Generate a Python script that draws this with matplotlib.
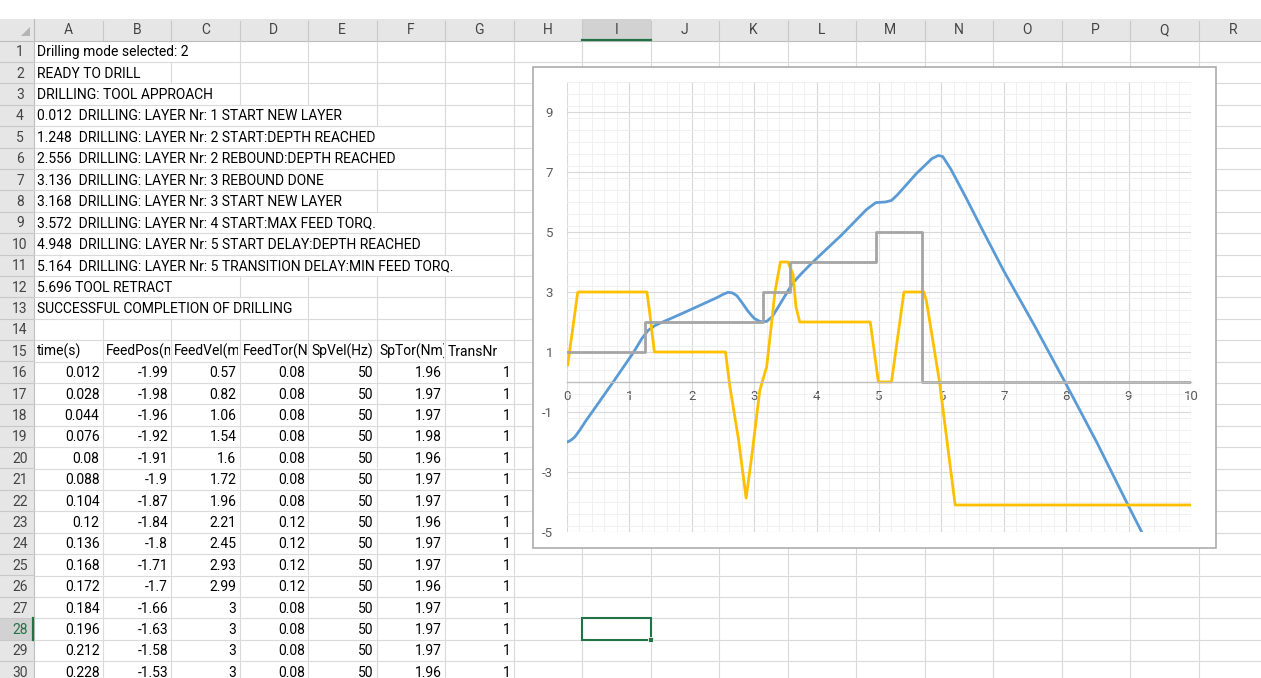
import matplotlib
matplotlib.use("Agg")
import matplotlib.pyplot as plt
from matplotlib.patches import Rectangle, Polygon
from matplotlib.collections import LineCollection
from matplotlib.ticker import MultipleLocator

W, H = 1261, 678
plt.rcParams['font.family'] = ['Roboto', 'DejaVu Sans']
plt.rcParams['axes.unicode_minus'] = False

# ---- sheet content ----
col_letters = list("ABCDEFGHIJKLMNOPQR")
log_lines = [
    "Drilling mode selected: 2",
    "READY TO DRILL",
    "DRILLING: TOOL APPROACH",
    "0.012  DRILLING: LAYER Nr: 1 START NEW LAYER",
    "1.248  DRILLING: LAYER Nr: 2 START:DEPTH REACHED",
    "2.556  DRILLING: LAYER Nr: 2 REBOUND:DEPTH REACHED",
    "3.136  DRILLING: LAYER Nr: 3 REBOUND DONE",
    "3.168  DRILLING: LAYER Nr: 3 START NEW LAYER",
    "3.572  DRILLING: LAYER Nr: 4 START:MAX FEED TORQ.",
    "4.948  DRILLING: LAYER Nr: 5 START DELAY:DEPTH REACHED",
    "5.164  DRILLING: LAYER Nr: 5 TRANSITION DELAY:MIN FEED TORQ.",
    "5.696 TOOL RETRACT",
    "SUCCESSFUL COMPLETION OF DRILLING",
]
headers = ["time(s)", "FeedPos(mm)", "FeedVel(mm/s)", "FeedTor(Nm)",
           "SpVel(Hz)", "SpTor(Nm)", "TransNr"]
time_s = [0.012, 0.028, 0.044, 0.076, 0.08, 0.088, 0.104, 0.12, 0.136,
          0.168, 0.172, 0.184, 0.196, 0.212, 0.228]
feed_pos = [-1.99, -1.98, -1.96, -1.92, -1.91, -1.9, -1.87, -1.84, -1.8,
            -1.71, -1.7, -1.66, -1.63, -1.58, -1.53]
feed_vel = [0.57, 0.82, 1.06, 1.54, 1.6, 1.72, 1.96, 2.21, 2.45,
            2.93, 2.99, 3, 3, 3, 3]
feed_tor = [0.08, 0.08, 0.08, 0.08, 0.08, 0.08, 0.08, 0.12, 0.12,
            0.12, 0.12, 0.08, 0.08, 0.08, 0.08]
sp_vel = [50] * 15
sp_tor = [1.96, 1.97, 1.97, 1.98, 1.96, 1.97, 1.97, 1.96, 1.97,
          1.97, 1.96, 1.97, 1.97, 1.97, 1.96]
trans_nr = [1] * 15

# ---- chart readings after the rows shown in the sheet ----
pos_t_more = [0.3, 0.42, 0.75, 1.07, 1.2, 1.3, 1.4, 1.5, 1.7, 2.0, 2.2, 2.4,
              2.5, 2.58, 2.65, 2.72, 2.8, 2.9, 3.0, 3.1, 3.2, 3.29, 3.4,
              3.53, 3.62, 3.75, 3.94, 4.4, 4.8, 4.95, 5.1, 5.2, 5.3, 5.45,
              5.6, 5.75, 5.85, 5.95, 6.02, 6.15, 6.38, 6.65, 7.0, 7.5, 7.98,
              8.5, 8.99, 9.21]
pos_v_more = [-1.3, -0.95, 0.03, 1.0, 1.45, 1.72, 1.87, 1.97, 2.15, 2.43,
              2.62, 2.81, 2.92, 2.99, 2.97, 2.88, 2.66, 2.36, 2.12, 2.01,
              2.02, 2.18, 2.55, 3.0, 3.3, 3.6, 4.0, 4.9, 5.75, 5.98, 6.0,
              6.05, 6.25, 6.6, 6.95, 7.25, 7.45, 7.55, 7.52, 7.1, 6.2, 5.1,
              3.7, 1.85, 0.0, -2.05, -4.1, -5.0]
vel_t_more = [1.28, 1.32, 1.4, 2.54, 2.61, 2.75, 2.87, 2.96, 3.09, 3.2,
              3.29, 3.33, 3.42, 3.54, 3.62, 3.67, 3.73, 4.86, 4.99, 5.2,
              5.4, 5.72, 5.76, 5.97, 6.22, 10.0]
vel_v_more = [3.0, 2.4, 1.0, 1.0, -0.15, -1.93, -3.87, -2.49, -0.27, 0.51,
              2.18, 2.97, 4.0, 4.0, 3.6, 2.5, 2.0, 2.0, 0.0, 0.0, 3.0, 3.0,
              2.7, 0.0, -4.1, -4.1]
trans_t = [0, 1.248, 3.136, 3.572, 4.948, 5.696, 10]
trans_v = [1, 2, 3, 4, 5, 0, 0]

# ---- geometry of the sheet (pixels) ----
col_x0, col_w = 34, 68.5
row_y0, row_h = 40.5, 21.4
hdr_top = 19
n_rows = 30
grid_c = '#DADADA'
green = '#217346'
fs = 10


def cx(k):
    return col_x0 + col_w * k


def ry(n):
    return row_y0 + row_h * (n - 1)


fig = plt.figure(figsize=(W / 100, H / 100), dpi=100)
bg = fig.add_axes([0, 0, 1, 1])
bg.set_xlim(0, W)
bg.set_ylim(H, 0)
bg.axis('off')

# headers
bg.add_patch(Rectangle((0, hdr_top), W, row_y0 - hdr_top, color='#E6E6E6', lw=0))
bg.add_patch(Rectangle((0, row_y0), col_x0, H - row_y0, color='#E6E6E6', lw=0))
sel_col, sel_row = 8, 28
bg.add_patch(Rectangle((cx(sel_col), hdr_top), col_w, row_y0 - hdr_top,
                       color='#D2D2D2', lw=0))
bg.add_patch(Rectangle((0, ry(sel_row)), col_x0, row_h, color='#D2D2D2', lw=0))

for k, letter in enumerate(col_letters):
    bg.text(cx(k) + col_w / 2, (hdr_top + row_y0) / 2 + 0.5, letter,
            ha='center', va='center', fontsize=fs, color='#444444')
    bg.plot([cx(k), cx(k)], [hdr_top + 2, row_y0], color='#C8C8C8', lw=0.8)
bg.plot([0, W], [row_y0, row_y0], color='#BDBDBD', lw=0.8)
bg.plot([col_x0, col_x0], [hdr_top, H], color='#BDBDBD', lw=0.8)
bg.add_patch(Polygon([[30, 27], [30, 36], [21, 36]], color='#B4B4B4', lw=0))

for n in range(1, n_rows + 1):
    y = ry(n)
    bg.plot([0, col_x0], [y + row_h, y + row_h], color='#C8C8C8', lw=0.8)
    bg.text(20, y + row_h / 2 + 1, str(n), ha='center', va='center',
            fontsize=fs, color=green if n == sel_row else '#444444')

# horizontal cell lines
bg.add_collection(LineCollection(
    [[(col_x0, ry(n)), (W, ry(n))] for n in range(2, n_rows + 2)],
    colors=grid_c, linewidths=0.8))

# cell texts
text_ends = {}
for i, line in enumerate(log_lines):
    n = i + 1
    t = bg.text(cx(0) + 3, ry(n) + row_h / 2 + 1, line, ha='left',
                va='center', fontsize=fs, color='black')
    text_ends[n] = t

for j, h in enumerate(headers):
    t = bg.text(cx(j) + 3, ry(15) + row_h / 2 + 1, h, ha='left', va='center',
                fontsize=fs, color='black', clip_on=True)
    t.set_clip_path(Rectangle((cx(j), ry(15)), col_w - 1.5, row_h,
                              transform=bg.transData))

columns = [time_s, feed_pos, feed_vel, feed_tor, sp_vel, sp_tor, trans_nr]
for r in range(len(time_s)):
    n = 16 + r
    for j, col in enumerate(columns):
        bg.text(cx(j + 1) - 3, ry(n) + row_h / 2 + 1, f"{col[r]:g}",
                ha='right', va='center', fontsize=fs, color='black')

renderer = fig.canvas.get_renderer()
ends = {n: t.get_window_extent(renderer).x1 for n, t in text_ends.items()}

vsegs = []
for n in range(1, n_rows + 1):
    for k in range(1, len(col_letters) + 1):
        x = cx(k)
        if n in ends and x < ends[n] + 2:
            continue
        vsegs.append([(x, ry(n)), (x, ry(n) + row_h)])
bg.add_collection(LineCollection(vsegs, colors=grid_c, linewidths=0.8))

# selection
bg.plot([cx(sel_col), cx(sel_col + 1)], [row_y0 - 1, row_y0 - 1], color=green, lw=1.6)
bg.plot([col_x0 - 1, col_x0 - 1], [ry(sel_row), ry(sel_row) + row_h], color=green, lw=1.6)
bg.add_patch(Rectangle((cx(sel_col), ry(sel_row)), col_w, row_h, fill=False,
                       edgecolor=green, lw=1.5, zorder=5))
bg.add_patch(Rectangle((cx(sel_col + 1) - 2.5, ry(sel_row) + row_h - 2.5), 5, 5,
                       facecolor=green, edgecolor='white', lw=0.6, zorder=6))

# chart frame
bg.add_patch(Rectangle((533, 67), 683, 481, facecolor='white',
                       edgecolor='#A6A6A6', lw=1.1, zorder=10))

# ---- chart ----
ax = fig.add_axes([567 / W, (H - 532) / H, 624 / W, 450 / H])
ax.patch.set_alpha(0)
ax.set_xlim(0, 10)
ax.set_ylim(-5, 10)
ax.set_xticks(range(0, 11))
ax.set_yticks(range(-5, 10, 2))
ax.xaxis.set_minor_locator(MultipleLocator(0.2))
ax.yaxis.set_minor_locator(MultipleLocator(0.4))
ax.grid(which='major', color='#D9D9D9', lw=0.8)
ax.grid(which='minor', color='#F0F0F0', lw=0.7)
ax.set_axisbelow(True)
for s in ['top', 'right', 'left']:
    ax.spines[s].set_visible(False)
ax.spines['bottom'].set_position(('data', 0))
ax.spines['bottom'].set_color('#BFBFBF')
ax.spines['bottom'].set_linewidth(1.0)
ax.tick_params(which='both', length=0, labelsize=9.5, labelcolor='#595959')
ax.tick_params(axis='x', pad=6)
ax.tick_params(axis='y', pad=10)

ax.plot(time_s + pos_t_more, feed_pos + pos_v_more, color='#5B9BD5', lw=2)
ax.plot(time_s + vel_t_more, feed_vel + vel_v_more, color='#FFC000', lw=2)
ax.step(trans_t, trans_v, where='post', color='#A5A5A5', lw=2)

fig.savefig("out.png", dpi=100)
